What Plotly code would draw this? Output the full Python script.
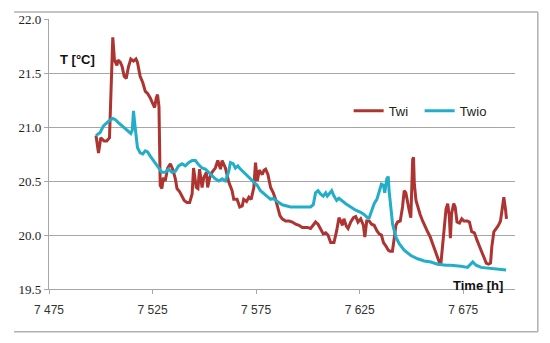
import plotly.graph_objects as go

# ---- data ----
twi_h = [7497.7, 7498.9, 7500.0, 7501.6, 7502.9, 7504.2, 7505.8, 7506.6, 7507.8, 7508.3,
         7509.4, 7510.3, 7511.3, 7512.3, 7513.4, 7514.5, 7515.8, 7517.0, 7517.7, 7519.0,
         7520.3, 7521.5, 7522.6, 7523.9, 7525.0, 7526.0, 7526.8, 7527.4, 7528.1, 7528.7,
         7529.5, 7530.2, 7531.1, 7532.3, 7533.6, 7534.9, 7536.0, 7536.8, 7538.1, 7539.2,
         7540.3, 7541.6, 7542.9, 7544.1, 7544.8, 7546.1, 7546.9, 7547.7, 7548.9, 7549.7,
         7551.0, 7551.6, 7552.6, 7553.7, 7555.3, 7556.5, 7557.8, 7558.6, 7560.2, 7561.8,
         7563.4, 7564.2, 7565.8, 7567.1, 7568.3, 7569.0, 7570.4, 7571.5, 7572.6, 7573.9,
         7574.7, 7575.6, 7576.5, 7578.0, 7578.8, 7579.6, 7580.7, 7582.0, 7583.3, 7584.4,
         7585.5, 7586.5, 7587.6, 7589.2, 7590.9, 7592.5, 7594.1, 7595.7, 7597.3, 7599.7,
         7601.3, 7602.6, 7603.7, 7604.9, 7606.1, 7607.4, 7608.6, 7609.7, 7611.0, 7612.6,
         7613.9, 7615.0, 7615.8, 7616.7, 7617.4, 7618.6, 7619.4, 7620.7, 7622.0, 7623.1,
         7624.2, 7625.5, 7626.8, 7627.5, 7628.4, 7629.6, 7630.7, 7632.0, 7633.3, 7634.4,
         7635.5, 7636.5, 7637.6, 7638.8, 7639.7, 7640.8, 7641.7, 7642.5, 7643.3, 7644.6,
         7645.7, 7646.5, 7647.3, 7648.1, 7648.9, 7649.7, 7650.6, 7651.0, 7651.4, 7652.2,
         7653.0, 7654.2, 7655.4, 7656.5, 7657.8, 7659.1, 7660.2, 7661.3, 7662.6, 7663.4,
         7664.2, 7665.8, 7666.7, 7667.5, 7668.3, 7668.8, 7669.4, 7670.4, 7671.1, 7672.0,
         7673.2, 7674.3, 7675.3, 7676.9, 7678.0, 7679.1, 7680.4, 7681.7, 7682.8, 7684.0,
         7685.3, 7686.1, 7687.2, 7688.2, 7688.8, 7689.8, 7690.9, 7692.0, 7693.0, 7694.1,
         7694.6, 7695.4, 7695.9]
twi_t = [20.92, 20.76, 20.90, 20.87, 20.87, 20.90, 21.83, 21.62, 21.57, 21.62,
         21.60, 21.56, 21.47, 21.45, 21.56, 21.63, 21.61, 21.63, 21.60, 21.47,
         21.41, 21.33, 21.31, 21.27, 21.22, 21.18, 21.27, 21.30, 21.19, 20.46,
         20.43, 20.53, 20.50, 20.62, 20.66, 20.60, 20.52, 20.43, 20.40, 20.36,
         20.32, 20.30, 20.30, 20.38, 20.62, 20.44, 20.43, 20.61, 20.44, 20.53,
         20.58, 20.44, 20.53, 20.58, 20.62, 20.69, 20.61, 20.69, 20.62, 20.49,
         20.41, 20.33, 20.33, 20.26, 20.27, 20.33, 20.31, 20.35, 20.33, 20.44,
         20.67, 20.50, 20.60, 20.56, 20.60, 20.61, 20.56, 20.44, 20.39, 20.33,
         20.26, 20.18, 20.15, 20.13, 20.13, 20.12, 20.10, 20.09, 20.07, 20.07,
         20.06, 20.09, 20.12, 20.10, 20.06, 20.01, 20.02, 20.00, 19.93, 19.93,
         20.04, 20.16, 20.13, 20.09, 20.15, 20.08, 20.06, 20.12, 20.16, 20.17,
         20.12, 20.15, 20.09, 19.98, 20.13, 20.13, 20.10, 20.09, 20.04, 20.01,
         20.00, 19.93, 19.90, 19.86, 19.85, 19.85, 19.97, 20.09, 20.12, 20.13,
         20.26, 20.41, 20.39, 20.29, 20.23, 20.16, 20.70, 20.72, 20.47, 20.32,
         20.26, 20.19, 20.13, 20.09, 20.03, 19.98, 19.92, 19.86, 19.80, 19.75,
         19.73, 20.07, 20.24, 20.29, 20.17, 19.97, 20.20, 20.29, 20.26, 20.12,
         20.11, 20.15, 20.13, 20.13, 20.12, 20.03, 20.02, 19.95, 19.89, 19.84,
         19.78, 19.74, 19.73, 19.74, 19.89, 20.03, 20.06, 20.09, 20.13, 20.32,
         20.35, 20.24, 20.15]

twio_h = [7497.7, 7499.7, 7501.3, 7502.9, 7504.2, 7505.8, 7506.9, 7508.5, 7510.2, 7511.8,
          7513.4, 7514.5, 7515.2, 7515.8, 7516.3, 7517.0, 7517.7, 7519.0, 7520.3, 7521.5,
          7522.6, 7523.9, 7525.0, 7526.3, 7527.9, 7529.5, 7531.1, 7532.7, 7534.4, 7536.0,
          7537.6, 7539.2, 7540.8, 7542.4, 7544.1, 7545.7, 7547.3, 7548.9, 7550.5, 7552.1,
          7553.7, 7555.3, 7557.0, 7558.6, 7560.2, 7561.8, 7562.6, 7563.9, 7565.0, 7566.2,
          7567.4, 7569.0, 7570.7, 7572.3, 7573.9, 7575.5, 7577.1, 7578.8, 7580.4, 7582.0,
          7583.3, 7584.4, 7586.0, 7587.6, 7589.2, 7591.6, 7594.9, 7598.9, 7601.3, 7602.6,
          7603.7, 7604.9, 7606.1, 7607.4, 7608.6, 7609.4, 7610.7, 7611.5, 7612.6, 7613.9,
          7615.0, 7616.7, 7618.3, 7620.7, 7623.1, 7625.5, 7627.1, 7628.8, 7629.6, 7630.7,
          7632.0, 7633.3, 7634.4, 7635.5, 7636.5, 7637.1, 7638.1, 7638.8, 7639.2, 7640.0,
          7640.9, 7642.5, 7644.1, 7646.5, 7649.7, 7653.0, 7656.2, 7659.4, 7662.6, 7666.7,
          7669.0, 7673.9, 7677.1, 7679.6, 7681.2, 7683.6, 7688.4, 7695.7]
twio_t = [20.92, 20.95, 21.01, 21.04, 21.06, 21.08, 21.07, 21.04, 21.01, 20.98,
          20.95, 20.94, 20.97, 21.15, 21.05, 20.89, 20.81, 20.76, 20.75, 20.78,
          20.77, 20.73, 20.70, 20.67, 20.62, 20.58, 20.58, 20.61, 20.58, 20.59,
          20.64, 20.66, 20.64, 20.67, 20.69, 20.69, 20.65, 20.62, 20.61, 20.58,
          20.55, 20.52, 20.50, 20.52, 20.50, 20.59, 20.67, 20.66, 20.62, 20.64,
          20.61, 20.58, 20.55, 20.52, 20.49, 20.46, 20.41, 20.38, 20.36, 20.33,
          20.34, 20.32, 20.30, 20.28, 20.27, 20.26, 20.26, 20.26, 20.26, 20.28,
          20.39, 20.41, 20.38, 20.36, 20.39, 20.36, 20.39, 20.41, 20.36, 20.32,
          20.34, 20.31, 20.29, 20.26, 20.23, 20.21, 20.19, 20.16, 20.16, 20.22,
          20.29, 20.33, 20.41, 20.47, 20.46, 20.39, 20.52, 20.54, 20.41, 20.23,
          20.10, 19.98, 19.92, 19.86, 19.81, 19.78, 19.76, 19.75, 19.73, 19.72,
          19.72, 19.71, 19.70, 19.75, 19.72, 19.70, 19.69, 19.675]

series_names = ["Twi", "Twio"]
y_label = "T [°C]"
x_label = "Time [h]"

RED = "#AD3431"
CYAN = "#22AEC8"
GRID = "#A6A6A6"

fig = go.Figure()
fig.add_trace(go.Scatter(x=twi_h, y=twi_t, mode="lines", name=series_names[0],
                         line=dict(color=RED, width=3)))
fig.add_trace(go.Scatter(x=twio_h, y=twio_t, mode="lines", name=series_names[1],
                         line=dict(color=CYAN, width=3)))

fig.update_layout(
    width=550, height=343,
    margin=dict(l=49, r=35, t=17, b=54),
    paper_bgcolor="white", plot_bgcolor="white",
    separators=". ",
    showlegend=True,
    legend=dict(orientation="h", x=0.643, y=0.66, xanchor="left", yanchor="middle",
                entrywidth=26, entrywidthmode="pixels",
                font=dict(family="Liberation Sans", size=13, color="#222"),
                bgcolor="rgba(0,0,0,0)", tracegroupgap=0),
    xaxis=dict(range=[7475, 7700], tick0=7475, dtick=50, tickformat=",d",
               showgrid=False, zeroline=False,
               showline=True, linecolor=GRID, linewidth=1.3,
               ticks="outside", ticklen=4, tickcolor=GRID,
               tickfont=dict(family="Liberation Sans", size=12, color="#333"),
               ticklabelstandoff=5),
    yaxis=dict(range=[19.5, 22.0], dtick=0.5, tickformat=".1f",
               showgrid=True, gridcolor=GRID, gridwidth=1.3, zeroline=False,
               showline=True, linecolor=GRID, linewidth=1.3,
               ticks="outside", ticklen=4, tickcolor=GRID,
               tickfont=dict(family="Liberation Serif", size=13, color="#222")),
    annotations=[
        dict(text="<b>" + y_label + "</b>", xref="paper", yref="paper", x=0.019, y=0.849,
             xanchor="left", yanchor="middle", showarrow=False,
             font=dict(family="Liberation Sans", size=13, color="#111")),
        dict(text="<b>" + x_label + "</b>", xref="paper", yref="paper", x=0.979, y=0.012,
             xanchor="right", yanchor="middle", showarrow=False,
             font=dict(family="Liberation Sans", size=13, color="#111")),
    ],
    shapes=[
        dict(type="line", xref="paper", yref="paper", x0=-0.075, x1=1.049, y0=1.026, y1=1.026,
             line=dict(color="#B0B0B0", width=1.5)),
        dict(type="line", xref="paper", yref="paper", x0=1.049, x1=1.049, y0=1.026, y1=-0.158,
             line=dict(color="#B0B0B0", width=1.5)),
        dict(type="line", xref="paper", yref="paper", x0=-0.075, x1=1.049, y0=-0.158, y1=-0.158,
             line=dict(color="#B0B0B0", width=1.5)),
    ],
)

fig.write_html("out.html", config={"displayModeBar": False},
               post_script="document.body.style.margin='0';document.body.style.padding='0';")
